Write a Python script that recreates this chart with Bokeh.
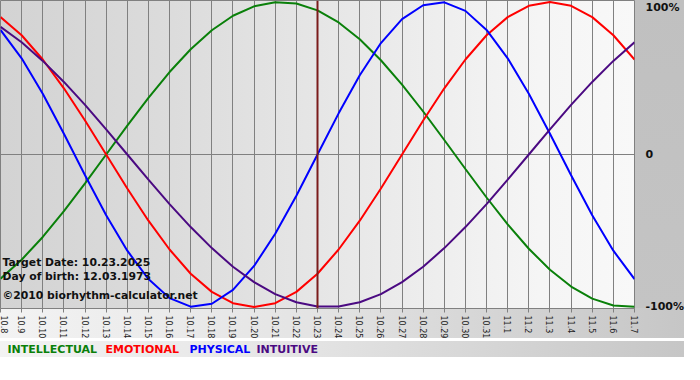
import math
from bokeh.plotting import figure
from bokeh.layouts import column
from bokeh.models import Range1d, FixedTicker, Label, Span, LinearAxis
from bokeh.embed import file_html
from bokeh.resources import INLINE

DATES = ["10.8", "10.9", "10.10", "10.11", "10.12", "10.13", "10.14", "10.15",
         "10.16", "10.17", "10.18", "10.19", "10.20", "10.21", "10.22", "10.23",
         "10.24", "10.25", "10.26", "10.27", "10.28", "10.29", "10.30", "10.31",
         "11.1", "11.2", "11.3", "11.4", "11.5", "11.6", "11.7"]
TARGET = "10.23"

INTELLECTUAL = [-0.815, -0.690, -0.541, -0.372, -0.189, 0.0, 0.189, 0.372, 0.541, 0.690,
                0.815, 0.910, 0.972, 0.999, 0.990, 0.945, 0.866, 0.756, 0.618, 0.458,
                0.282, 0.095, -0.095, -0.282, -0.458, -0.618, -0.756, -0.866, -0.945,
                -0.990, -0.999]
EMOTIONAL = [0.901, 0.782, 0.623, 0.434, 0.223, 0.0, -0.223, -0.434, -0.623, -0.782,
             -0.901, -0.975, -1.0, -0.975, -0.901, -0.782, -0.623, -0.434, -0.223, 0.0,
             0.223, 0.434, 0.623, 0.782, 0.901, 0.975, 1.0, 0.975, 0.901, 0.782, 0.623]
PHYSICAL = [0.817, 0.631, 0.398, 0.136, -0.136, -0.398, -0.631, -0.817, -0.942, -0.998,
            -0.979, -0.888, -0.731, -0.520, -0.270, 0.0, 0.270, 0.520, 0.731, 0.888,
            0.979, 0.998, 0.942, 0.817, 0.631, 0.398, 0.136, -0.136, -0.398, -0.631, -0.817]
INTUITIVE = [0.837, 0.736, 0.614, 0.476, 0.325, 0.165, 0.0, -0.165, -0.325, -0.476,
             -0.614, -0.736, -0.837, -0.916, -0.969, -0.997, -0.997, -0.969, -0.916, -0.837,
             -0.736, -0.614, -0.476, -0.325, -0.165, 0.0, 0.165, 0.325, 0.476, 0.614, 0.736]

SERIES = [("INTELLECTUAL", INTELLECTUAL, "#0a800a"),
          ("EMOTIONAL", EMOTIONAL, "#ff0000"),
          ("PHYSICAL", PHYSICAL, "#0000ff"),
          ("INTUITIVE", INTUITIVE, "#4b0a82")]
Y_LABELS = ["100%", "0", "-100%"]
INFO = ["Target Date: 10.23.2025", "Day of birth: 12.03.1973", "\u00a92010 biorhythm-calculator.net"]

W = 684
FW, FH = 634, 308
H1 = 338          # main figure height
H2 = 16           # legend strip height
YMIN, YMAX = -1.01, 1.01
xs = list(range(len(DATES)))
XMAX = len(DATES) - 1
PX = (YMAX - YMIN) / FH
PXX = XMAX / FW

p = figure(frame_width=FW, frame_height=FH, x_range=Range1d(0, XMAX), y_range=Range1d(YMIN, YMAX),
           output_backend="svg", toolbar_location=None, y_axis_location=None,
           min_border_left=0, min_border_top=0, min_border_right=W - FW,
           min_border_bottom=H1 - FH)

BOTTOM_GRAD = "linear-gradient(to right, #f3f3f3 0%, #e4e4e4 45%, #c6c6c6 100%)"
bg = ("linear-gradient(to right, #d3d3d3 0%, #dbdbdb 25%, #e8e8e8 55%, #f5f5f5 85%, #f8f8f8 100%) "
      f"0px 0px / {FW}px {FH}px no-repeat, "
      "linear-gradient(to bottom, #c0c0c0, #c4c4c4) "
      f"{FW}px 0px / {W - FW}px {FH}px no-repeat, "
      f"{BOTTOM_GRAD} 0px {FH}px / {W}px {H1 - FH}px no-repeat, #ffffff")
p.styles = {"background": bg}
p.background_fill_alpha = 0
p.border_fill_alpha = 0
p.outline_line_color = "#808080"

p.xaxis.ticker = FixedTicker(ticks=xs)
p.xaxis.major_label_overrides = {i: d for i, d in enumerate(DATES)}
p.xaxis.major_label_orientation = -math.pi / 2
p.xaxis.major_label_text_font = "DejaVu Sans"
p.xaxis.major_label_text_font_size = "8px"
p.xaxis.major_label_text_color = "#222222"
p.xaxis.major_label_standoff = 3
p.xaxis.axis_line_color = "#808080"
p.xaxis.major_tick_line_color = "#808080"
p.xaxis.major_tick_out = 4
p.xaxis.major_tick_in = 0
p.xaxis.minor_tick_line_color = None

# right axis with percentage labels (top label sits just inside the top edge)
y_label_pos = [YMAX - 7 * PX, 0.0, -1.0]
yax = LinearAxis(ticker=FixedTicker(ticks=y_label_pos),
                 major_label_overrides={v: t for v, t in zip(y_label_pos, Y_LABELS)})
yax.axis_line_color = None
yax.major_tick_line_color = None
yax.minor_tick_line_color = None
yax.major_label_standoff = 5
yax.major_label_text_font = "DejaVu Sans"
yax.major_label_text_font_style = "bold"
yax.major_label_text_font_size = "11px"
yax.major_label_text_color = "#111111"
p.add_layout(yax, "right")

p.xgrid.ticker = FixedTicker(ticks=xs)
p.xgrid.grid_line_color = "#808080"
p.xgrid.grid_line_alpha = 1.0
p.ygrid.ticker = FixedTicker(ticks=[0])
p.ygrid.grid_line_color = "#808080"
p.ygrid.grid_line_alpha = 1.0

for name, vals, color in SERIES:
    p.line(xs, vals, line_color=color, line_width=2)

p.add_layout(Span(location=DATES.index(TARGET), dimension="height",
                  line_color="#7b1c1c", line_width=2))

# info texts inside the plot
info_tops = [262, 276, 295]
for txt, top in zip(INFO, info_tops):
    p.add_layout(Label(x=2 * PXX, y=YMAX - top * PX, text=txt, text_baseline="middle",
                       text_align="left", text_font="DejaVu Sans", text_font_style="bold",
                       text_font_size="10.8px", text_color="#111111"))

# legend strip
lg = figure(width=W, height=H2, x_range=Range1d(0, W), y_range=Range1d(0, H2),
            output_backend="svg", toolbar_location=None, x_axis_location=None,
            y_axis_location=None, min_border=0)
lg.styles = {"background": f"{BOTTOM_GRAD}"}
lg.background_fill_alpha = 0
lg.border_fill_alpha = 0
lg.outline_line_color = None
lg.xgrid.visible = False
lg.ygrid.visible = False
leg_x = [7, 105, 189, 256]
for (name, vals, color), lx in zip(SERIES, leg_x):
    lg.add_layout(Label(x=lx, y=H2 / 2, x_units="screen", y_units="screen", text=name,
                        text_baseline="middle", text_align="left", text_font="DejaVu Sans",
                        text_font_style="bold", text_font_size="11px", text_color=color))

layout = column(p, lg, spacing=0)
open("out.html", "w").write(file_html(layout, INLINE))
